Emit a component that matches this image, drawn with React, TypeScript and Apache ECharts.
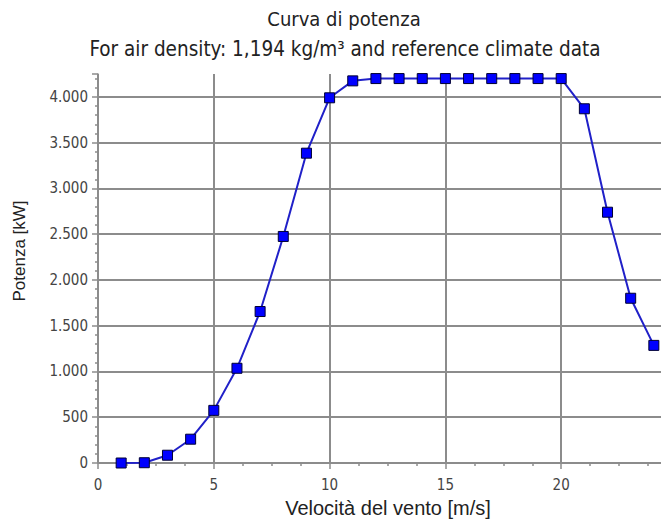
import React, { useEffect, useRef } from "react";
import * as echarts from "echarts";

const windSpeeds: number[] = [1, 2, 3, 4, 5, 6, 7, 8, 9, 10, 11, 12, 13, 14, 15, 16, 17, 18, 19, 20, 21, 22, 23, 24];
const powerKW: number[] = [0, 3, 85, 260, 575, 1035, 1655, 2475, 3385, 3990, 4175, 4200, 4200, 4200, 4200, 4200, 4200, 4200, 4200, 4200, 3870, 2740, 1800, 1285];

const titleText = "Curva di potenza";
const subtitleText = "For air density: 1,194 kg/m³ and reference climate data";
const xAxisName = "Velocità del vento [m/s]";
const yAxisName = "Potenza [kW]";

const TAHOMA = "'DejaVu Sans Condensed', 'DejaVu Sans', sans-serif";
const ARIAL = "'Liberation Sans', Arial, sans-serif";
const GRID = "#8c8c8c";

function fmt(v: number): string {
  return String(Math.round(v)).replace(/\B(?=(\d{3})+(?!\d))/g, ".");
}

export default function App() {
  const ref = useRef<HTMLDivElement>(null);
  useEffect(() => {
    if (!ref.current) return;
    const chart = echarts.init(ref.current, undefined, { renderer: "svg" });
    chart.setOption({
      animation: false,
      backgroundColor: "#ffffff",
      grid: { left: 98, right: 11, top: 74, bottom: 56 },
      graphic: [
        { type: "text", x: 344, y: 19, style: { text: titleText, fontFamily: TAHOMA, fontSize: 20, fill: "#222", textAlign: "center", textVerticalAlign: "middle" } },
        { type: "text", x: 345, y: 49, style: { text: subtitleText, fontFamily: TAHOMA, fontSize: 20.5, fill: "#222", textAlign: "center", textVerticalAlign: "middle" } },
        { type: "text", x: 388, y: 508, style: { text: xAxisName, fontFamily: ARIAL, fontSize: 20, fill: "#222", textAlign: "center", textVerticalAlign: "middle" } },
        { type: "text", x: 19, y: 251, rotation: Math.PI / 2, style: { text: yAxisName, fontFamily: ARIAL, fontSize: 17, fill: "#222", textAlign: "center", textVerticalAlign: "middle" } },
      ],
      xAxis: {
        type: "value",
        min: 0,
        max: 25,
        interval: 5,
        axisLine: { show: true, onZero: false, lineStyle: { color: GRID, width: 1.5 } },
        axisTick: { show: true, length: 6, lineStyle: { color: GRID, width: 1.5 } },
        minorTick: { show: true, splitNumber: 4, length: 3, lineStyle: { color: GRID, width: 1.5 } },
        splitLine: { show: true, lineStyle: { color: GRID, width: 2 } },
        axisLabel: { color: "#444", fontFamily: TAHOMA, fontSize: 15, margin: 14, showMaxLabel: false },
      },
      yAxis: {
        type: "value",
        min: 0,
        max: 4250,
        interval: 500,
        axisLine: { show: true, lineStyle: { color: GRID, width: 1.5 } },
        axisTick: { show: true, length: 6, lineStyle: { color: GRID, width: 1.5 } },
        minorTick: { show: true, splitNumber: 5, length: 3, lineStyle: { color: GRID, width: 1.5 } },
        splitLine: { show: true, showMaxLine: false, lineStyle: { color: GRID, width: 2 } },
        axisLabel: { color: "#444", fontFamily: TAHOMA, fontSize: 15, margin: 10, showMaxLabel: false, formatter: (v: number) => fmt(v) },
      },
      series: [
        {
          type: "line",
          data: windSpeeds.map((x, i) => [x, powerKW[i]]),
          symbol: "rect",
          symbolSize: 10,
          showAllSymbol: true,
          lineStyle: { color: "#2020c8", width: 2 },
          itemStyle: { color: "#0000ff", borderColor: "#000033", borderWidth: 1 },
          z: 3,
        },
      ],
    });
    return () => chart.dispose();
  }, []);
  return (
    <div style={{ position: "fixed", left: 0, top: 0, width: 661, height: 519, overflow: "hidden", background: "#fff" }}>
      <div ref={ref} style={{ width: 688, height: 519 }} />
    </div>
  );
}
